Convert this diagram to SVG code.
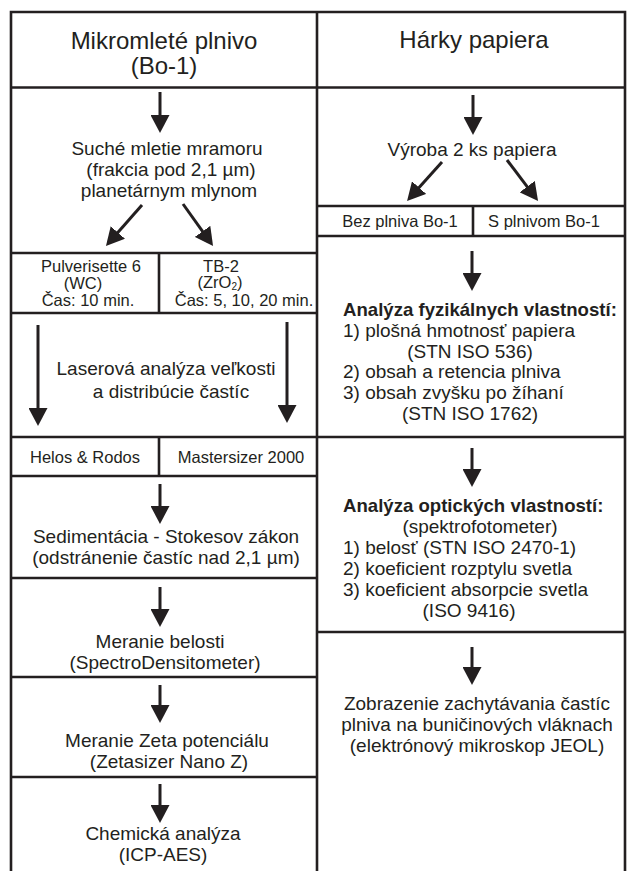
<svg xmlns="http://www.w3.org/2000/svg" width="627" height="871" viewBox="0 0 627 871">
<style>
.frame{stroke:#231f20;stroke-width:2.6;fill:none}
.t{font-family:"Liberation Sans",Arial,sans-serif;fill:#231f20;font-size:19px;text-anchor:middle}
.h{font-size:24px}
.s{font-size:16.5px}
.l{text-anchor:start}
.b{font-weight:bold;font-size:18.6px;text-anchor:start}
.arr{stroke:#231f20;stroke-width:3;fill:none;marker-end:url(#ah)}
</style>
<defs>
<marker id="ah" markerUnits="userSpaceOnUse" markerWidth="19" markerHeight="19" refX="4" refY="9.5" orient="auto" viewBox="0 0 19 19">
<path d="M0,0 L18,9.5 L0,19 z" fill="#231f20"/>
</marker>
</defs>
<rect width="627" height="871" fill="#fff"/>
<g id="frame" class="frame">
<path d="M11,871 V12 H625 V871"/>
<path d="M317,12 V871"/>
<path d="M11,87.5 H625"/>
<path d="M11,253 H317 M11,313 H317 M11,437 H625 M11,476 H317 M11,578 H317 M11,677 H317 M11,777 H317"/>
<path d="M317,206 H625 M317,236 H625 M317,632 H625"/>
<path d="M159,253 V313 M159,437 V476 M473,206 V236"/>
</g>
<g id="hdr-left"><text class="t h" x="164" y="49">Mikromleté plnivo</text><text class="t h" x="164" y="74">(Bo-1)</text></g>
<g id="hdr-right"><text class="t h" x="474" y="48">Hárky papiera</text></g>
<g id="mletie"><text class="t" x="167" y="155">Suché mletie mramoru</text><text class="t" x="171" y="176">(frakcia pod 2,1 µm)</text><text class="t" x="169" y="197">planetárnym mlynom</text></g>
<g id="pulverisette"><text class="t s" x="91" y="272">Pulverisette 6</text><text class="t s" x="83" y="289">(WC)</text><text class="t s" x="88" y="306">Čas: 10 min.</text></g>
<g id="tb2"><text class="t s" x="221" y="272">TB-2</text><text class="t s" x="220" y="288">(ZrO<tspan font-size="10" dy="2">2</tspan><tspan dy="-2">)</tspan></text><text class="t s" x="244" y="306">Čas: 5, 10, 20 min.</text></g>
<g id="laser"><text class="t" x="166" y="375">Laserová analýza veľkosti</text><text class="t" x="171" y="398">a distribúcie častíc</text></g>
<g id="helos"><text class="t s" x="85" y="463">Helos &amp; Rodos</text></g>
<g id="mastersizer"><text class="t s" x="241" y="463">Mastersizer 2000</text></g>
<g id="sediment"><text class="t" x="166" y="543">Sedimentácia - Stokesov zákon</text><text class="t" x="166" y="564">(odstránenie častíc nad 2,1 µm)</text></g>
<g id="belost"><text class="t" x="160" y="648">Meranie belosti</text><text class="t" x="165" y="669">(SpectroDensitometer)</text></g>
<g id="zeta"><text class="t" x="167" y="747">Meranie Zeta potenciálu</text><text class="t" x="169" y="768">(Zetasizer Nano Z)</text></g>
<g id="chem"><text class="t" x="163" y="840">Chemická analýza</text><text class="t" x="163" y="861">(ICP-AES)</text></g>
<g id="vyroba"><text class="t" x="472" y="156">Výroba 2 ks papiera</text></g>
<g id="bez"><text class="t s" x="400" y="227">Bez plniva Bo-1</text></g>
<g id="s-plnivom"><text class="t s" x="544" y="227">S plnivom Bo-1</text></g>
<g id="fyz"><text class="t b" x="343" y="316">Analýza fyzikálnych vlastností:</text><text class="t l" x="343" y="337">1) plošná hmotnosť papiera</text><text class="t" x="470" y="358">(STN ISO 536)</text><text class="t l" x="343" y="378">2) obsah a retencia plniva</text><text class="t l" x="343" y="399">3) obsah zvyšku po žíhaní</text><text class="t" x="470" y="420">(STN ISO 1762)</text></g>
<g id="opt"><text class="t b" x="343" y="512">Analýza optických vlastností:</text><text class="t" x="480" y="533">(spektrofotometer)</text><text class="t l" x="343" y="554">1) belosť (STN ISO 2470-1)</text><text class="t l" x="343" y="575">2) koeficient rozptylu svetla</text><text class="t l" x="343" y="596">3) koeficient absorpcie svetla</text><text class="t" x="469" y="617">(ISO 9416)</text></g>
<g id="zobrazenie"><text class="t" x="477" y="710">Zobrazenie zachytávania častíc</text><text class="t" x="477" y="731">plniva na buničinových vláknach</text><text class="t" x="477" y="752">(elektrónový mikroskop JEOL)</text></g>
<g id="connectors">
<line class="arr" x1="160" y1="92" x2="160" y2="119"/>
<line class="arr" x1="142" y1="205" x2="115.2" y2="235.5"/>
<line class="arr" x1="183" y1="204" x2="204.9" y2="234.6"/>
<line class="arr" x1="38" y1="325" x2="38" y2="412"/>
<line class="arr" x1="287" y1="322" x2="287" y2="409"/>
<line class="arr" x1="160" y1="484" x2="160" y2="510"/>
<line class="arr" x1="160" y1="587" x2="160" y2="613"/>
<line class="arr" x1="160" y1="685" x2="160" y2="709"/>
<line class="arr" x1="160" y1="784" x2="160" y2="809"/>
<line class="arr" x1="473" y1="95" x2="473" y2="121"/>
<line class="arr" x1="442" y1="162" x2="416.4" y2="190.6"/>
<line class="arr" x1="507" y1="160" x2="529.6" y2="189.8"/>
<line class="arr" x1="472" y1="251" x2="472" y2="277"/>
<line class="arr" x1="472" y1="448" x2="472" y2="473"/>
<line class="arr" x1="472" y1="647" x2="472" y2="671"/>
</g>
</svg>
